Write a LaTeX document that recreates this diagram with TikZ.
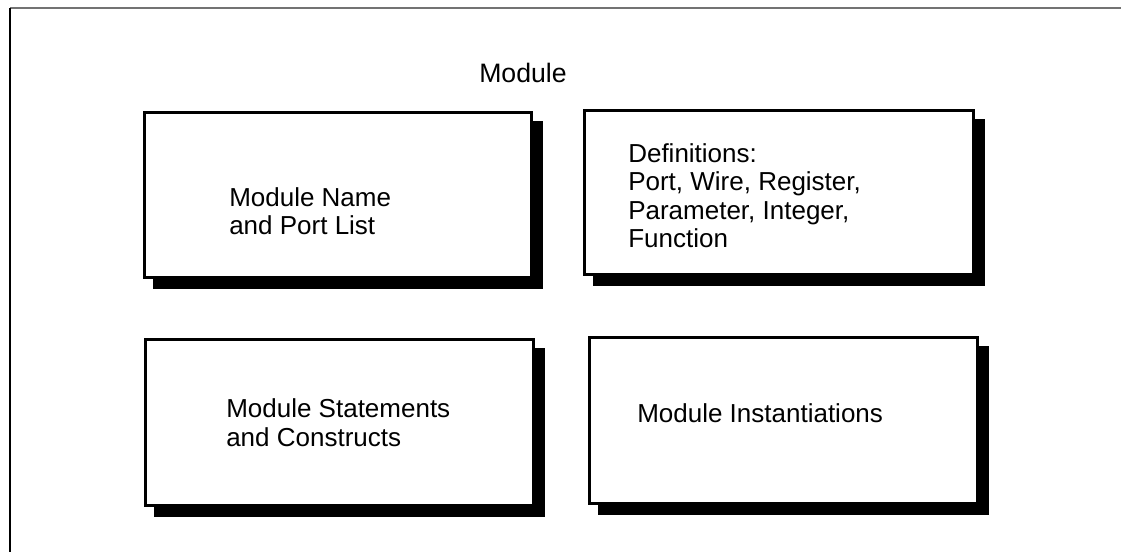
\documentclass[tikz,border=0pt]{standalone}
\usepackage{fontspec}
\setmainfont{Liberation Sans}
\begin{document}
\begin{tikzpicture}[x=0.75pt,y=-0.75pt,
  shbox/.style={draw=black, fill=white, line width=2.25pt, inner sep=0pt,
    preaction={draw=black, fill=black, line width=2.25pt, transform canvas={xshift=7.5pt,yshift=-7.5pt}}},
  lbl/.style={inner sep=0pt, anchor=base west, align=left, font=\fontsize{19.5}{21.4}\selectfont},
  ttl/.style={inner sep=0pt, anchor=base, font=\fontsize{20}{24}\selectfont}]
\useasboundingbox (0,0) rectangle (1121,552);
% frame
\coordinate (ftl) at (10,8);
\coordinate (ftr) at (1121,8);
\coordinate (fbl) at (10,552);
\draw[line width=1.5pt, draw=black!55] (ftl) -- (ftr);
\draw[line width=1.3pt] (ftl) -- (fbl);
% title
\node[ttl] (title) at (523,83) {Module};
% boxes
\node[shbox, minimum width=387*0.75pt, minimum height=165*0.75pt] (b1) at (338,195) {};
\node[shbox, minimum width=389*0.75pt, minimum height=164*0.75pt] (b2) at (779,192.5) {};
\node[shbox, minimum width=388*0.75pt, minimum height=166*0.75pt] (b3) at (339.5,422.5) {};
\node[shbox, minimum width=388*0.75pt, minimum height=166*0.75pt] (b4) at (783.5,420.5) {};
% texts (anchor = baseline of last line)
\node[lbl] (t1) at (229,235) {Module Name\\and Port List};
\node[lbl] (t2) at (628,248) {Definitions:\\Port, Wire, Register,\\Parameter, Integer,\\Function};
\node[lbl] (t3) at (226,446) {Module Statements\\and Constructs};
\node[lbl] (t4) at (637,422) {Module Instantiations};
\end{tikzpicture}
\end{document}
